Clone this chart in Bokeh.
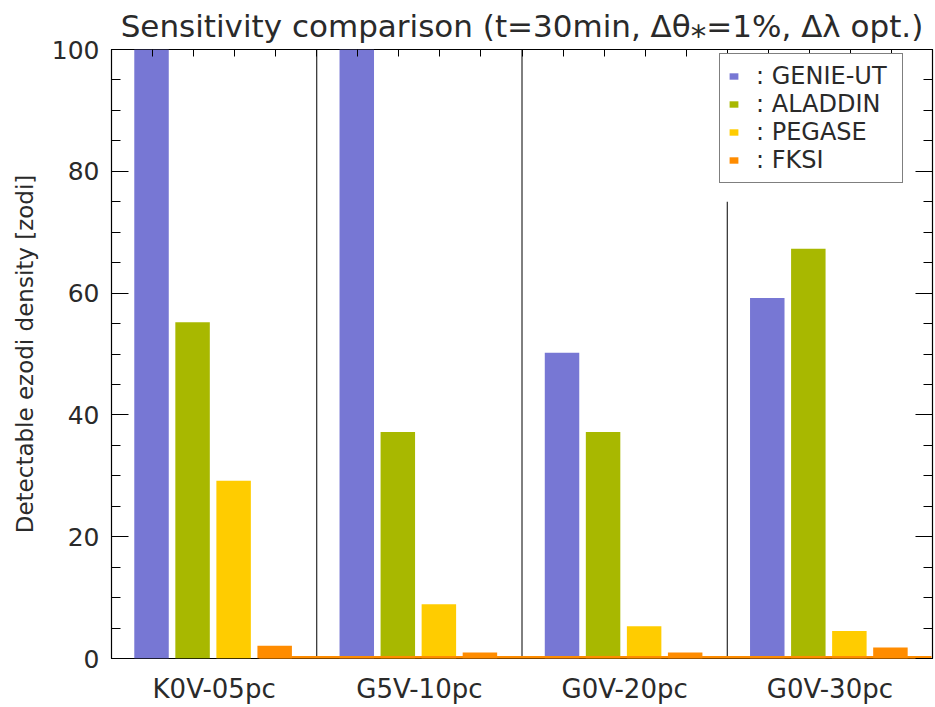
from bokeh.plotting import figure
from bokeh.models import (Range1d, LinearAxis, SingleIntervalTicker, FixedTicker,
                          Legend, LegendItem, Title, CustomJSTickFormatter)
from bokeh.embed import file_html
from bokeh.resources import INLINE

categories = ["K0V-05pc", "G5V-10pc", "G0V-20pc", "G0V-30pc"]
series = ["GENIE-UT", "ALADDIN", "PEGASE", "FKSI"]
genie = [100.0, 100.0, 50.2, 59.2]
aladdin = [55.2, 37.2, 37.2, 67.3]
pegase = [29.2, 8.9, 5.3, 4.5]
fksi = [2.1, 1.0, 1.0, 1.8]
values = [genie, aladdin, pegase, fksi]
colors = ["#7777d4", "#a8b800", "#ffcc00", "#ff8c00"]
y_ticks = [0, 20, 40, 60, 80, 100]

FONT = "DejaVu Sans"
TXT = "#2a2a2a"
ng = len(categories)
ns = len(series)
slot = 1.0 / (ns + 1)

p = figure(width=935, height=707, x_range=Range1d(0, ng), y_range=Range1d(0, 100),
           output_backend="svg", toolbar_location=None,
           x_axis_location=None, y_axis_location=None,
           min_border_left=111, min_border_right=3, min_border_top=48, min_border_bottom=49)
p.grid.visible = False
p.outline_line_color = "black"
p.outline_line_width = 1.2
p.background_fill_color = "white"
p.border_fill_color = "white"

p.title = Title(text="Sensitivity comparison (t=30min, \u0394\u03b8\u204e=1%, \u0394\u03bb opt.)",
                text_font=FONT, text_font_size="31px", text_font_style="normal",
                align="center", text_color=TXT, standoff=11)

# group separators
sep_x = list(range(1, ng))
sep_top = [100, 100, 75]
p.segment(x0=sep_x, x1=sep_x, y0=[0] * len(sep_x), y1=sep_top, line_color="black", line_width=1)

items = []
for si, (name, vals, col) in enumerate(zip(series, values, colors)):
    xs = [gi + (si + 1) * slot - 0.005 for gi in range(ng)]
    r = p.vbar(x=xs, top=vals, bottom=0, width=0.168, fill_color=col, line_color=None)
    items.append(LegendItem(label=": " + name, renderers=[r]))

# baseline line (orange)
p.segment(x0=[0.72], x1=[ng - 0.005], y0=[0], y1=[0], line_color="#ff8c00", line_width=5)

blank = CustomJSTickFormatter(code="return '';")

# axes
left = LinearAxis(ticker=SingleIntervalTicker(interval=20, num_minor_ticks=4),
                  axis_label="Detectable ezodi density [zodi]")
left.axis_line_color = None
left.major_tick_in = 17
left.major_tick_out = 0
left.minor_tick_in = 9
left.minor_tick_out = 0
left.major_label_text_font = FONT
left.major_label_text_font_size = "25px"
left.major_label_text_color = TXT
left.major_label_standoff = 12
left.axis_label_text_font = FONT
left.axis_label_text_font_size = "23px"
left.axis_label_text_font_style = "normal"
left.axis_label_text_color = TXT
left.axis_label_standoff = 11
p.add_layout(left, "left")

right = LinearAxis(ticker=SingleIntervalTicker(interval=20, num_minor_ticks=4), formatter=blank)
right.axis_line_color = None
right.major_tick_in = 17
right.major_tick_out = 0
right.minor_tick_in = 9
right.minor_tick_out = 0
right.major_label_standoff = 0
p.add_layout(right, "right")

top = LinearAxis(ticker=SingleIntervalTicker(interval=slot, num_minor_ticks=0), formatter=blank)
top.axis_line_color = None
top.major_tick_in = 7
top.major_tick_out = 0
top.minor_tick_in = 0
top.minor_tick_out = 0
top.major_label_standoff = 0
p.add_layout(top, "above")

bottom = LinearAxis(ticker=FixedTicker(ticks=[gi + 0.5 for gi in range(ng)]))
bottom.formatter = CustomJSTickFormatter(args=dict(labels=categories),
                                         code="return labels[Math.floor(tick)];")
bottom.axis_line_color = None
bottom.major_tick_in = 0
bottom.major_tick_out = 0
bottom.minor_tick_in = 0
bottom.minor_tick_out = 0
bottom.major_label_text_font = FONT
bottom.major_label_text_font_size = "26px"
bottom.major_label_text_color = TXT
bottom.major_label_standoff = 15
p.add_layout(bottom, "below")

legend = Legend(items=items, location=(608, 475), orientation="vertical")
legend.label_text_font = FONT
legend.label_text_font_size = "24px"
legend.label_text_color = TXT
legend.glyph_width = 11
legend.glyph_height = 8
legend.label_standoff = 17
legend.label_width = 138
legend.spacing = 0
legend.padding = 8
legend.margin = 0
legend.border_line_color = "black"
legend.border_line_width = 1
legend.background_fill_alpha = 1
legend.label_height = 25
p.add_layout(legend, "center")

open("out.html", "w").write(file_html(p, INLINE))
